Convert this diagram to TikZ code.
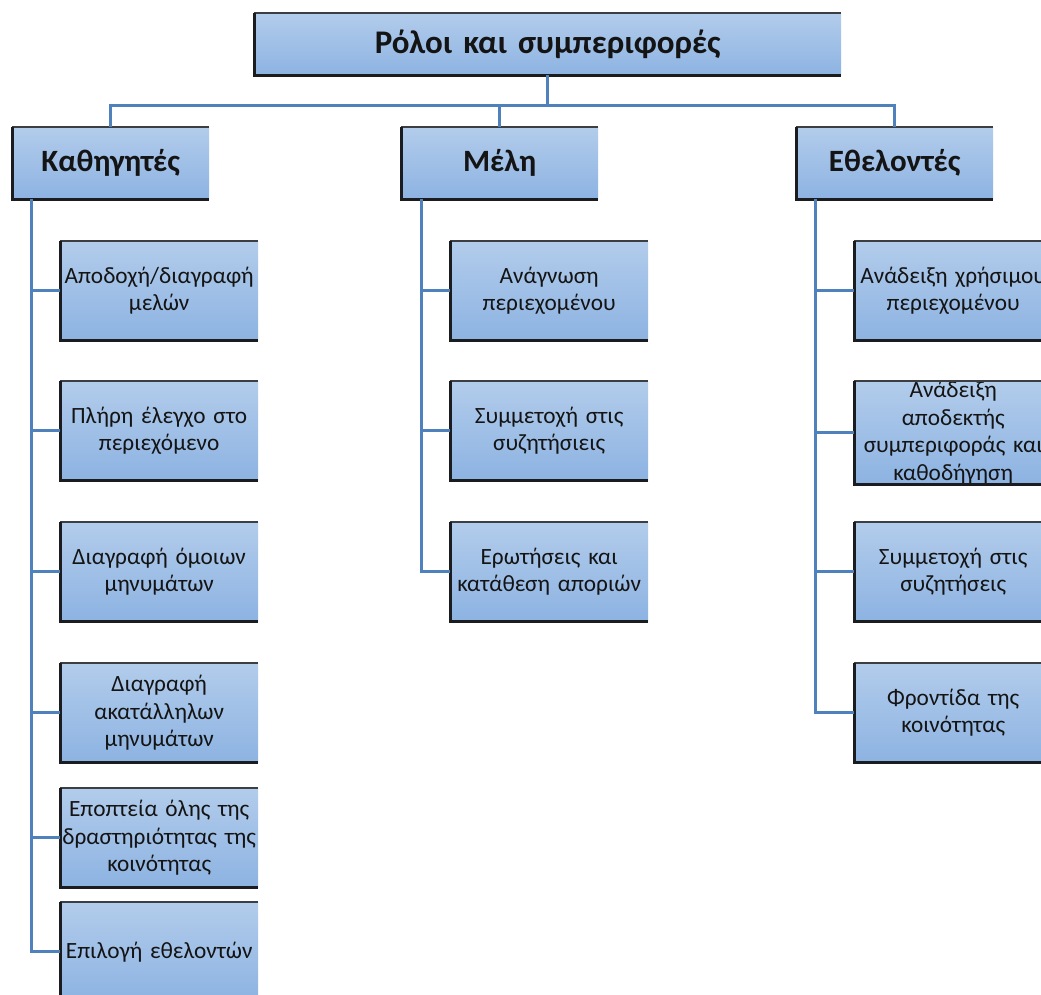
\documentclass[tikz,border=0pt]{standalone}
\usepackage{fontspec}
\setmainfont{Carlito}
\definecolor{fillTop}{RGB}{178,204,235}
\definecolor{fillBot}{RGB}{141,179,226}
\definecolor{linkBlue}{RGB}{79,129,189}
\definecolor{edgeGray}{RGB}{60,62,66}
\definecolor{edgeDark}{RGB}{26,28,32}
\definecolor{inkText}{RGB}{20,20,20}
\tikzset{
  box/.style={anchor=north west, inner sep=0pt, top color=fillTop, bottom color=fillBot,
    draw=none, align=center, text=inkText},
  rootbox/.style={box, text width=587pt, minimum height=62pt,
    font=\fontsize{33}{40}\selectfont\bfseries},
  headbox/.style={box, text width=197pt, minimum height=72pt,
    font=\fontsize{31}{37}\selectfont\bfseries},
  leafbox/.style={box, text width=198pt, minimum height=99pt,
    font=\fontsize{23.3}{27.5}\selectfont},
  link/.style={draw=linkBlue, line width=3pt},
  edgetop/.style={draw=edgeGray, line width=2pt},
  edgeside/.style={draw=edgeDark, line width=3pt},
}
\begin{document}
\begin{tikzpicture}[x=1pt, y=-1pt]
\clip (0,0) rectangle (1041,994);

% root
\node[rootbox] (root) at (254,13) {Ρόλοι και συμπεριφορές};

% role headings
\node[headbox] (k) at (12,127) {Καθηγητές};
\node[headbox] (m) at (401,127) {Μέλη};
\node[headbox] (e) at (796,127) {Εθελοντές};

% teachers
\node[leafbox] (k1) at (60,241) {Αποδοχή/διαγραφή\\μελών};
\node[leafbox] (k2) at (60,381) {Πλήρη έλεγχο στο\\περιεχόμενο};
\node[leafbox] (k3) at (60,522) {Διαγραφή όμοιων\\μηνυμάτων};
\node[leafbox] (k4) at (60,663) {Διαγραφή\\ακατάλληλων\\μηνυμάτων};
\node[leafbox] (k5) at (60,788) {Εποπτεία όλης της\\δραστηριότητας της\\κοινότητας};
\node[leafbox] (k6) at (60,902) {Επιλογή εθελοντών};

% members
\node[leafbox] (m1) at (450,241) {Ανάγνωση\\περιεχομένου};
\node[leafbox] (m2) at (450,381) {Συμμετοχή στις\\συζητήσιεις};
\node[leafbox] (m3) at (450,522) {Ερωτήσεις και\\κατάθεση αποριών};

% volunteers
\node[leafbox] (e1) at (854,241) {Ανάδειξη χρήσιμου\\περιεχομένου};
\node[leafbox] (e2) at (854,381) {Ανάδειξη\\αποδεκτής\\συμπεριφοράς και\\καθοδήγηση};
\node[leafbox] (e3) at (854,522) {Συμμετοχή στις\\συζητήσεις};
\node[leafbox] (e4) at (854,663) {Φροντίδα της\\κοινότητας};

% box edges: top, left and bottom only
\foreach \n in {root,k,m,e,k1,k2,k3,k4,k5,k6,m1,m2,m3,e1,e2,e3,e4}{
  \draw[edgetop] (\n.north west) -- (\n.north east);
  \draw[edgeside] (\n.north west) -- (\n.south west) -- (\n.south east);
}

% connectors from the root
\coordinate (bus) at (0,105);
\draw[link] (root.south) -- (root.south |- bus) -| (k.north);
\draw[link] (root.south |- bus) -| (m.north);
\draw[link] (root.south |- bus) -| (e.north);

% connectors to the leaves
\foreach \c in {k1,k2,k3,k4,k5,k6}
  \draw[link] ([xshift=19pt]k.south west) |- (\c.west);
\foreach \c in {m1,m2,m3}
  \draw[link] ([xshift=20pt]m.south west) |- (\c.west);
\foreach \c in {e1,e2,e3,e4}
  \draw[link] ([xshift=19pt]e.south west) |- (\c.west);
\end{tikzpicture}
\end{document}
